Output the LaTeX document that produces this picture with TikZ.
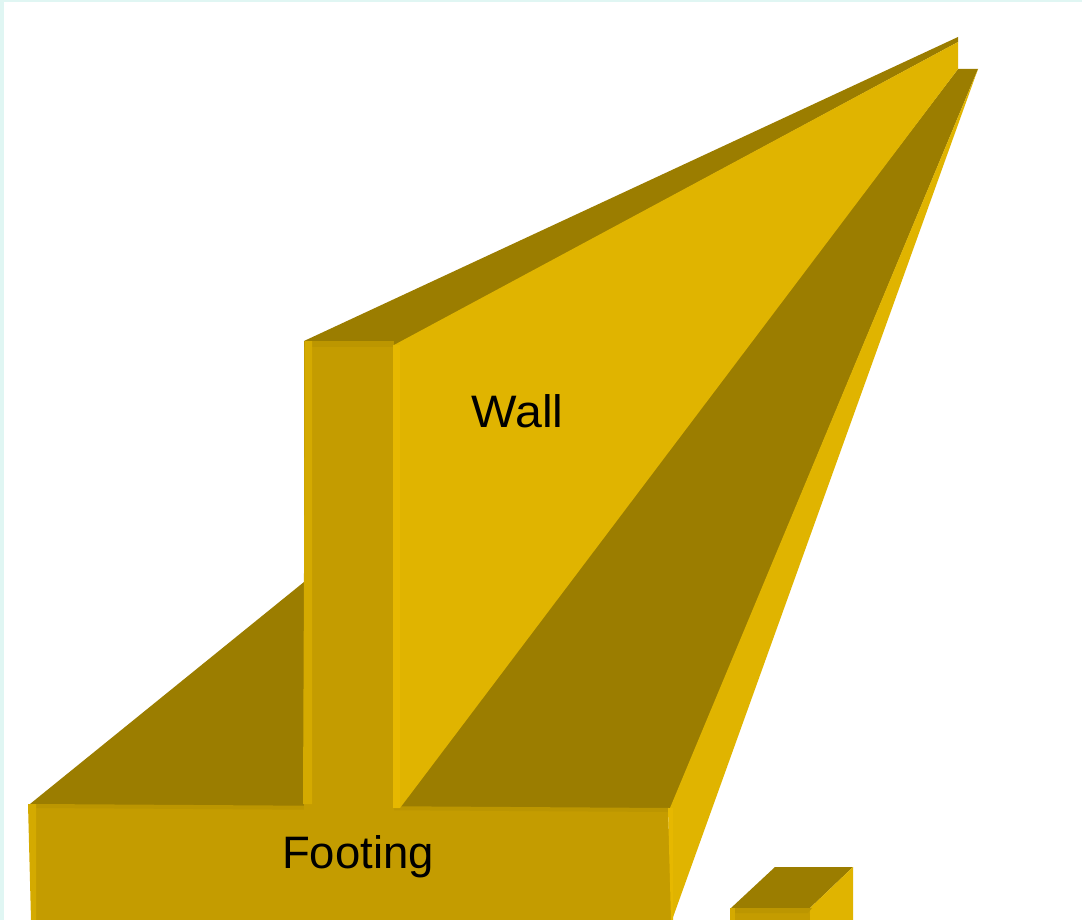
\documentclass[tikz,border=0pt]{standalone}
\usepackage{fontspec}
\setmainfont{Liberation Sans}
\definecolor{bgcyan}{HTML}{E0F6F3}
\definecolor{lit}{HTML}{E0B400}
\definecolor{darktop}{HTML}{9B7D00}
\definecolor{face}{HTML}{C49C00}
\definecolor{edgea}{HTML}{D4AA00}
\definecolor{edgeb}{HTML}{BC9600}
\definecolor{edgec}{HTML}{E6B800}
\tikzset{lbl/.style={font=\fontsize{45.5}{50}\selectfont,text=black,inner sep=0pt}}
\begin{document}
\begin{tikzpicture}[x=1pt,y=-1pt]
\useasboundingbox (0,0) rectangle (1082,920);
\fill[bgcyan] (0,0) rectangle (1082,920);
\fill[white] (4,2) rectangle (1082,920);
% footing top
\fill[darktop] (30,804) -- (304,582) -- (304,806) -- (30,806) -- cycle;
\fill[darktop] (396,808) -- (958,69) -- (978,69) -- (670,810) -- cycle;
% footing right side
\fill[lit] (670,808) -- (978,69) -- (672,920) -- (668,920) -- cycle;
% footing front
\fill[face] (30,808) -- (668,808) -- (672,920) -- (32,920) -- cycle;
\fill[edgeb] (36,804) -- (670,808) -- (668,812) -- (36,808) -- cycle;
\fill[edgea] (28,804) -- (36,804) -- (36,920) -- (31,920) -- cycle;
\fill[edgec] (668,808) -- (673,808) -- (673,920) -- (671,920) -- cycle;
% wall
\fill[darktop] (304,341) -- (958,37) -- (958,42) -- (394,346) -- cycle;
\fill[lit] (394,345) -- (958,42) -- (958,69) -- (400,808) -- (394,808) -- cycle;
\fill[face] (304,341) -- (394,341) -- (394,812) -- (304,812) -- cycle;
\fill[edgeb] (304,341) -- (394,341) -- (394,347) -- (304,347) -- cycle;
\fill[edgea] (305,341) -- (312,341) -- (312,804) -- (303,804) -- cycle;
\fill[edgec] (393,345) -- (400,345) -- (400,808) -- (393,808) -- cycle;
% small block
\fill[darktop] (775,867) -- (853,867) -- (810,908) -- (731,908) -- cycle;
\fill[lit] (853,867) -- (853,920) -- (810,920) -- (810,908) -- cycle;
\fill[face] (730,908) -- (810,908) -- (810,920) -- (730,920) -- cycle;
\fill[edgeb] (730,908) -- (812,908) -- (808,913) -- (730,913) -- cycle;
\fill[edgea] (730,908) -- (735,908) -- (735,920) -- (730,920) -- cycle;
% labels
\node[lbl,xscale=1.06] (wall) at (517.5,411) {Wall};
\node[lbl] (footing) at (358,856.5) {Footing};
\end{tikzpicture}
\end{document}
